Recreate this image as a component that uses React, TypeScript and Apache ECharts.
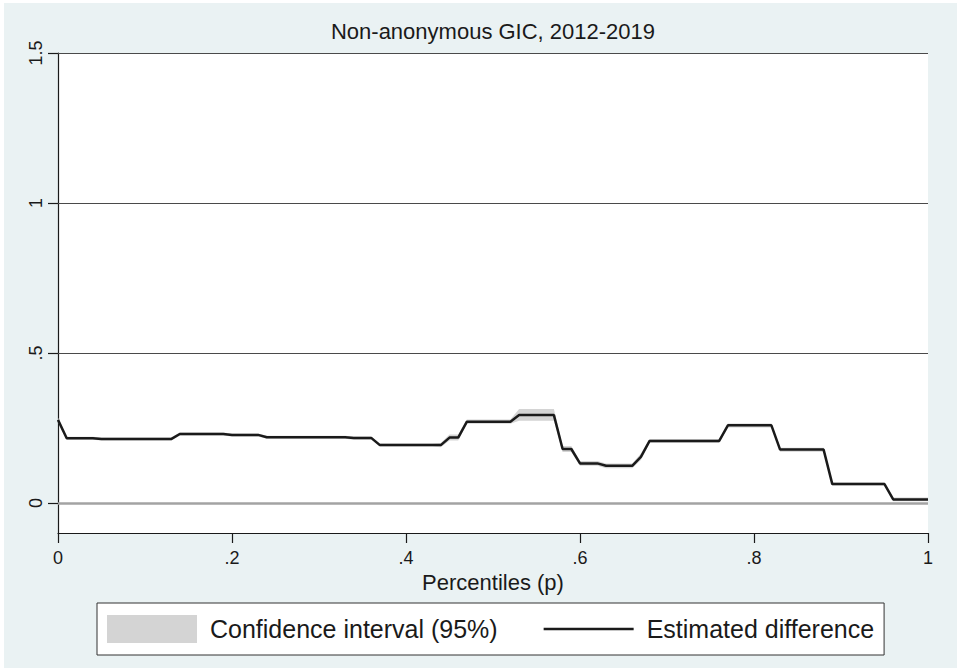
import React, { useEffect, useRef } from "react";
import * as echarts from "echarts";

// Estimated difference at percentiles p = 0, .01, ..., 1
const estimate = [
  0.277, 0.216, 0.216, 0.216, 0.216, 0.213, 0.213, 0.213, 0.213, 0.213,
  0.213, 0.213, 0.213, 0.213, 0.23, 0.23, 0.23, 0.23, 0.23, 0.23,
  0.227, 0.227, 0.227, 0.227, 0.219, 0.219, 0.219, 0.219, 0.219, 0.219,
  0.219, 0.219, 0.219, 0.219, 0.217, 0.217, 0.217, 0.193, 0.193, 0.193,
  0.193, 0.193, 0.193, 0.193, 0.193, 0.218, 0.218, 0.271, 0.271, 0.271,
  0.271, 0.271, 0.271, 0.293, 0.293, 0.293, 0.293, 0.293, 0.18, 0.18,
  0.132, 0.132, 0.132, 0.124, 0.124, 0.124, 0.124, 0.154, 0.207, 0.207,
  0.207, 0.207, 0.207, 0.207, 0.207, 0.207, 0.207, 0.259, 0.259, 0.259,
  0.259, 0.259, 0.259, 0.178, 0.178, 0.178, 0.178, 0.178, 0.178, 0.063,
  0.063, 0.063, 0.063, 0.063, 0.063, 0.063, 0.012, 0.012, 0.012, 0.012,
  0.012,
];

// 95% confidence interval bounds
const lower = [
  0.27, 0.211, 0.211, 0.211, 0.211, 0.208, 0.208, 0.208, 0.208, 0.208,
  0.208, 0.208, 0.208, 0.208, 0.225, 0.225, 0.225, 0.225, 0.225, 0.225,
  0.222, 0.222, 0.222, 0.222, 0.214, 0.214, 0.214, 0.214, 0.214, 0.214,
  0.214, 0.214, 0.214, 0.214, 0.211, 0.211, 0.211, 0.188, 0.188, 0.188,
  0.188, 0.188, 0.188, 0.188, 0.186, 0.208, 0.208, 0.264, 0.264, 0.264,
  0.264, 0.264, 0.264, 0.274, 0.274, 0.274, 0.274, 0.274, 0.17, 0.17,
  0.124, 0.124, 0.124, 0.116, 0.116, 0.116, 0.116, 0.143, 0.201, 0.201,
  0.201, 0.201, 0.201, 0.201, 0.201, 0.201, 0.201, 0.252, 0.252, 0.252,
  0.252, 0.252, 0.252, 0.171, 0.171, 0.171, 0.171, 0.171, 0.171, 0.058,
  0.058, 0.058, 0.058, 0.058, 0.058, 0.058, 0.006, 0.006, 0.006, 0.006,
  0.006,
];

const upper = [
  0.284, 0.221, 0.221, 0.221, 0.221, 0.218, 0.218, 0.218, 0.218, 0.218,
  0.218, 0.218, 0.218, 0.218, 0.235, 0.235, 0.235, 0.235, 0.235, 0.235,
  0.232, 0.232, 0.232, 0.232, 0.224, 0.224, 0.224, 0.224, 0.224, 0.224,
  0.224, 0.224, 0.224, 0.224, 0.222, 0.222, 0.222, 0.198, 0.198, 0.198,
  0.198, 0.198, 0.198, 0.198, 0.2, 0.228, 0.228, 0.278, 0.278, 0.278,
  0.278, 0.278, 0.278, 0.313, 0.313, 0.313, 0.313, 0.313, 0.19, 0.19,
  0.14, 0.14, 0.14, 0.132, 0.132, 0.132, 0.132, 0.165, 0.213, 0.213,
  0.213, 0.213, 0.213, 0.213, 0.213, 0.213, 0.213, 0.265, 0.265, 0.265,
  0.265, 0.265, 0.265, 0.184, 0.184, 0.184, 0.184, 0.184, 0.184, 0.068,
  0.068, 0.068, 0.068, 0.068, 0.068, 0.068, 0.018, 0.018, 0.018, 0.018,
  0.018,
];

const yTicks = [0, 0.5, 1, 1.5];
const yTickLabels = ["0", ".5", "1", "1.5"];
const xTickLabels: Record<string, string> = {
  "0": "0", "0.2": ".2", "0.4": ".4", "0.6": ".6", "0.8": ".8", "1": "1",
};
const gridLines = [0.5, 1, 1.5];

const titleText = "Non-anonymous GIC, 2012-2019";
const xName = "Percentiles (p)";
const ciName = "Confidence interval (95%)";
const estName = "Estimated difference";

const FONT = "'Liberation Sans', Arial, Helvetica, sans-serif";
const CI_COLOR = "#d4d4d4";
const LINE_COLOR = "#1a1a1a";

export default function App() {
  const ref = useRef<HTMLDivElement>(null);

  useEffect(() => {
    if (!ref.current) return;
    const chart = echarts.init(ref.current, undefined, { renderer: "svg" });
    const pct = estimate.map((_, i) => i / 100);

    const option: any = {
      animation: false,
      backgroundColor: "transparent",
      textStyle: { fontFamily: FONT },
      graphic: [
        {
          type: "text",
          x: 493,
          y: 31,
          style: {
            text: titleText,
            fill: LINE_COLOR,
            font: `22px ${FONT}`,
            textAlign: "center",
            textVerticalAlign: "middle",
          },
        },
      ],
      grid: {
        left: 58,
        right: 33,
        top: 53,
        bottom: 138,
        show: true,
        backgroundColor: "#ffffff",
        borderWidth: 0,
      },
      legend: {
        left: 97,
        top: 603,
        orient: "horizontal",
        backgroundColor: "#ffffff",
        borderColor: "#333333",
        borderWidth: 1,
        borderRadius: 0,
        padding: [12, 10, 12, 10],
        itemWidth: 90,
        itemHeight: 28,
        itemGap: 46,
        selectedMode: false,
        symbolKeepAspect: true,
        textStyle: {
          fontFamily: FONT,
          fontSize: 25,
          color: LINE_COLOR,
          padding: [0, 0, 0, 8],
        },
        data: [
          { name: ciName, icon: "rect", itemStyle: { color: CI_COLOR } },
          {
            name: estName,
            icon: "path://M0 0H90V2.5H0Z",
            itemStyle: { color: LINE_COLOR, borderWidth: 0 },
          },
        ],
      },
      xAxis: {
        type: "value",
        min: 0,
        max: 1,
        interval: 0.2,
        name: xName,
        nameLocation: "middle",
        nameGap: 36,
        nameTextStyle: { fontSize: 22, color: LINE_COLOR, fontFamily: FONT },
        axisLine: { show: true, onZero: false, lineStyle: { color: LINE_COLOR, width: 1.2 } },
        axisTick: { show: true, length: 10, lineStyle: { color: LINE_COLOR, width: 1.2 } },
        axisLabel: {
          margin: 16,
          fontSize: 18,
          color: LINE_COLOR,
          fontFamily: FONT,
          formatter: (v: number) => xTickLabels[String(Math.round(v * 10) / 10)] ?? String(v),
        },
        splitLine: { show: false },
      },
      yAxis: {
        type: "value",
        min: -0.1,
        max: 1.5,
        axisLine: { show: true, onZero: false, lineStyle: { color: LINE_COLOR, width: 1.2 } },
        axisTick: {
          show: true,
          length: 10,
          customValues: yTicks,
          lineStyle: { color: LINE_COLOR, width: 1.2 },
        },
        axisLabel: {
          rotate: 90,
          margin: 13,
          fontSize: 18,
          color: LINE_COLOR,
          fontFamily: FONT,
          customValues: yTicks,
          formatter: (v: number) => {
            const i = yTicks.findIndex((t) => Math.abs(t - v) < 1e-9);
            return i >= 0 ? yTickLabels[i] : "";
          },
        },
        splitLine: { show: false },
      },
      series: [
        {
          name: ciName,
          type: "custom",
          z: 2,
          itemStyle: { color: CI_COLOR },
          encode: { x: 0, y: [1, 2] },
          data: pct.map((p, i) => [p, lower[i], upper[i]]),
          renderItem: (params: any, api: any) => {
            if (params.dataIndex !== 0) return null;
            const top = pct.map((p, i) => api.coord([p, upper[i]]));
            const bottom = pct.map((p, i) => api.coord([p, lower[i]])).reverse();
            return {
              type: "polygon",
              shape: { points: top.concat(bottom) },
              style: { fill: CI_COLOR, stroke: "none" },
            };
          },
          markLine: {
            silent: true,
            symbol: ["none", "none"],
            z: 1,
            label: { show: false },
            data: [
              ...gridLines.map((g) => ({
                yAxis: g,
                lineStyle: { color: "#4a4a4a", width: 1.2, type: "solid" },
              })),
              { yAxis: 0, lineStyle: { color: "#a3a3a3", width: 2.6, type: "solid" } },
            ],
          },
        },
        {
          name: estName,
          type: "line",
          symbol: "none",
          z: 3,
          itemStyle: { color: LINE_COLOR },
          lineStyle: { color: LINE_COLOR, width: 2.5 },
          data: pct.map((p, i) => [p, estimate[i]]),
        },
      ],
    };

    chart.setOption(option);
    return () => chart.dispose();
  }, []);

  return (
    <div
      style={{
        position: "absolute",
        left: 0,
        top: 0,
        width: 961,
        height: 671,
        background: "#ffffff",
      }}
    >
      <div
        ref={ref}
        style={{
          width: 961,
          height: 671,
          background: "#eaf2f3",
          boxShadow: "inset 4px 3px 0 0 #ffffff, inset -4px -3px 0 0 #ffffff",
        }}
      />
    </div>
  );
}
